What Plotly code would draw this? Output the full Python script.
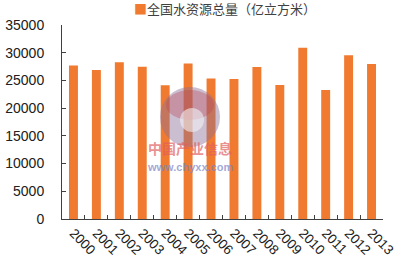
import plotly.graph_objects as go

years = ["2000", "2001", "2002", "2003", "2004", "2005", "2006",
         "2007", "2008", "2009", "2010", "2011", "2012", "2013"]
water = [27701, 26868, 28261, 27460, 24130, 28053, 25330,
         25255, 27434, 24180, 30906, 23257, 29529, 27958]
series_name = "全国水资源总量（亿立方米）"
y_ticks = [0, 5000, 10000, 15000, 20000, 25000, 30000, 35000]
y_tick_text = ["0", "5000", "10000", "15000", "20000", "25000", "30000", "35000"]

bar_color = "#F07A30"
font_num = "Liberation Sans, Arial, sans-serif"
font_cjk = "Noto Sans CJK SC, sans-serif"

fig = go.Figure()
fig.add_trace(go.Bar(x=years, y=water, marker=dict(color=bar_color, line=dict(width=0)),
                     width=0.39, showlegend=False, name=series_name))

def px(x):
    return (x - 62) / 321

def py(y):
    return (219 - y) / 194

# watermark
fig.add_shape(type="circle", xref="paper", yref="paper",
              x0=px(160), x1=px(220), y0=py(147), y1=py(87),
              fillcolor="rgba(140,110,150,0.45)", line=dict(width=0), layer="above")
fig.add_shape(type="circle", xref="paper", yref="paper",
              x0=px(166), x1=px(214), y0=py(120), y1=py(90),
              fillcolor="rgba(185,70,80,0.35)", line=dict(width=0), layer="above")
fig.add_shape(type="circle", xref="paper", yref="paper",
              x0=px(180), x1=px(204), y0=py(132), y1=py(108),
              fillcolor="rgba(240,240,245,0.6)", line=dict(width=0), layer="above")
fig.add_annotation(text="<b>中国产业信息</b>", xref="paper", yref="paper",
                   x=px(190), y=py(160), showarrow=False,
                   font=dict(family=font_cjk, size=14, color="rgba(225,95,95,0.7)"))
fig.add_annotation(text="<b>www.chyxx.com</b>", xref="paper", yref="paper",
                   x=px(190), y=py(175), showarrow=False,
                   font=dict(family=font_num, size=11, color="rgba(120,130,200,0.7)"))

# legend-like title
fig.add_annotation(text="<span style='color:%s'>■</span>%s" % (bar_color, series_name),
                   xref="paper", yref="paper", x=px(132), y=py(8),
                   xanchor="left", yanchor="middle", showarrow=False,
                   font=dict(family=font_cjk, size=13, color="#404040"))

fig.update_layout(
    width=400, height=265,
    margin=dict(l=62, r=17, t=25, b=46, autoexpand=False),
    paper_bgcolor="white", plot_bgcolor="white",
    bargap=0.61,
    xaxis=dict(type="category", showline=True, linecolor="#404040", linewidth=1,
               ticks="inside", ticklen=4, tickcolor="#404040", tickson="boundaries",
               tickangle=45, showgrid=False, automargin=False,
               tickfont=dict(family=font_num, size=13.5, color="#202020")),
    yaxis=dict(range=[0, 35000], tickvals=y_ticks, ticktext=y_tick_text, showline=True,
               linecolor="#404040", linewidth=1, ticks="inside", ticklen=4,
               tickcolor="#404040", showgrid=False, zeroline=False, ticklabelstandoff=14,
               automargin=False,
               tickfont=dict(family=font_num, size=14, color="#202020")),
)

fig.write_html("out.html")
